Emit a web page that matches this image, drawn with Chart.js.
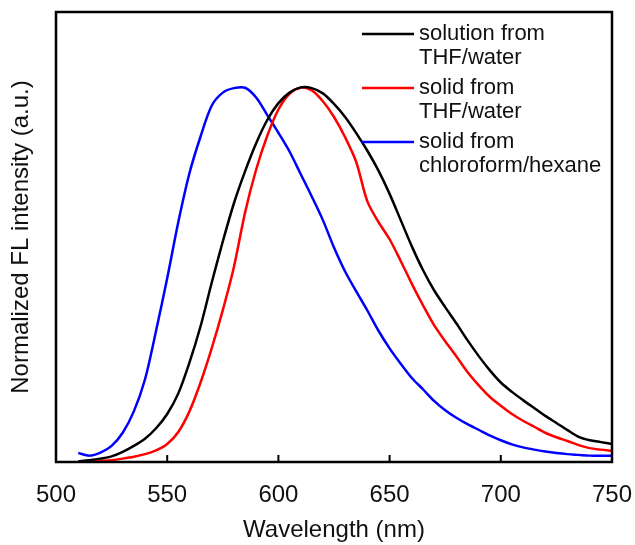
<!DOCTYPE html>
<html>
<head>
<meta charset="utf-8">
<script src="https://cdn.jsdelivr.net/npm/chart.js@4/dist/chart.umd.min.js"></script>
<style>
  html, body { margin: 0; padding: 0; background: #fff; }
  #wrap { width: 635px; height: 545px; }
</style>
</head>
<body>
<div id="wrap"><canvas id="chart" width="635" height="545"></canvas></div>
<script>
// wavelength grid (nm)
const wavelengths = [510, 515, 520, 525, 530, 535, 540, 545, 550, 555, 560, 565, 570, 575, 580, 585, 590, 595,
  600, 605, 610, 615, 620, 625, 630, 635, 640, 645, 650, 655, 660, 665, 670, 675, 680, 685, 690, 695,
  700, 705, 710, 715, 720, 725, 730, 735, 740, 745, 750]

// solution from THF/water
const solutionTHF = [0.002, 0.005, 0.009, 0.015, 0.027, 0.043, 0.062, 0.090, 0.128, 0.183, 0.265, 0.362, 0.478, 0.588,
  0.690, 0.775, 0.850, 0.912, 0.957, 0.985, 0.999, 0.997, 0.983, 0.955, 0.920, 0.877, 0.830, 0.777, 0.715, 0.645,
  0.575, 0.512, 0.458, 0.413, 0.370, 0.325, 0.283, 0.245, 0.212, 0.187, 0.165, 0.144, 0.123, 0.104, 0.085, 0.067,
  0.058, 0.053, 0.048]

// solid from THF/water
const solidTHF = [0.000, 0.001, 0.003, 0.005, 0.009, 0.014, 0.021, 0.031, 0.048, 0.080, 0.135, 0.212, 0.303, 0.405,
  0.520, 0.665, 0.780, 0.870, 0.940, 0.982, 0.998, 0.991, 0.962, 0.920, 0.866, 0.800, 0.695, 0.640, 0.594, 0.536,
  0.475, 0.418, 0.365, 0.322, 0.282, 0.240, 0.205, 0.174, 0.150, 0.128, 0.110, 0.094, 0.078, 0.066, 0.056, 0.045,
  0.037, 0.033, 0.030]

// solid from chloroform/hexane
const solidCHCl3 = [0.024, 0.017, 0.025, 0.043, 0.078, 0.135, 0.220, 0.350, 0.490, 0.640, 0.770, 0.868, 0.950, 0.985,
  0.997, 0.998, 0.972, 0.925, 0.878, 0.828, 0.768, 0.708, 0.645, 0.572, 0.508, 0.455, 0.404, 0.350, 0.303, 0.262,
  0.224, 0.194, 0.163, 0.138, 0.118, 0.101, 0.086, 0.071, 0.058, 0.047, 0.039, 0.033, 0.028, 0.024, 0.021, 0.019,
  0.017, 0.017, 0.017]

const xTicks = [500, 550, 600, 650, 700, 750]
const legendText = [['solution from', 'THF/water'], ['solid from', 'THF/water'], ['solid from', 'chloroform/hexane']]
const colors = ['#000000', '#ff0000', '#0000ff']

const toPoints = (ys) => wavelengths.map((x, i) => ({ x: x, y: ys[i] }))

const FONT = 'Arial, "Liberation Sans", sans-serif'

// frame, inward ticks and the two-line legend
const decorations = {
  id: 'decorations',
  afterDatasetsDraw(chart) {
    const { ctx, chartArea: a, scales } = chart
    ctx.save()
    ctx.strokeStyle = '#000'
    ctx.lineWidth = 2.5
    ctx.strokeRect(a.left, a.top, a.right - a.left, a.bottom - a.top)
    ctx.lineWidth = 2
    xTicks.forEach((v) => {
      const px = scales.x.getPixelForValue(v)
      ctx.beginPath()
      ctx.moveTo(px, a.bottom)
      ctx.lineTo(px, a.bottom - 7)
      ctx.stroke()
    })
    ctx.font = '22px ' + FONT
    ctx.fillStyle = '#111'
    ctx.textBaseline = 'middle'
    legendText.forEach((lines, i) => {
      const y0 = 34 + i * 54
      ctx.strokeStyle = colors[i]
      ctx.lineWidth = 2.5
      ctx.beginPath()
      ctx.moveTo(362, y0)
      ctx.lineTo(414, y0)
      ctx.stroke()
      lines.forEach((t, j) => ctx.fillText(t, 419, y0 + j * 24))
    })
    ctx.restore()
  },
}

const config = {
  type: 'line',
  data: {
    datasets: [
      { label: legendText[0].join(' '), data: toPoints(solutionTHF), borderColor: colors[0] },
      { label: legendText[1].join(' '), data: toPoints(solidTHF), borderColor: colors[1] },
      { label: legendText[2].join(' '), data: toPoints(solidCHCl3), borderColor: colors[2] },
    ],
  },
  options: {
    responsive: false,
    animation: false,
    layout: { padding: { top: 12, right: 23, left: 0, bottom: 0 } },
    elements: {
      line: { borderWidth: 2.5, tension: 0.3, fill: false },
      point: { radius: 0 },
    },
    plugins: {
      legend: { display: false },
      tooltip: { enabled: false },
    },
    scales: {
      x: {
        type: 'linear',
        min: 500,
        max: 750,
        afterFit: (s) => {
          s.height = 83
          s.paddingLeft = 0
          s.paddingRight = 0
        },
        afterBuildTicks: (s) => { s.ticks = xTicks.map((v) => ({ value: v })) },
        grid: { display: false, drawTicks: false },
        border: { display: false },
        ticks: { padding: 19, color: '#111', font: { size: 24, family: FONT } },
        title: {
          display: true,
          text: 'Wavelength (nm)',
          color: '#111',
          font: { size: 24, family: FONT },
          padding: { top: 0, bottom: 0 },
        },
      },
      y: {
        min: 0,
        max: 1.2,
        afterFit: (s) => {
          s.width = 56
          s.paddingTop = 0
          s.paddingBottom = 0
        },
        grid: { display: false, drawTicks: false },
        border: { display: false },
        ticks: { display: false },
        title: {
          display: true,
          text: 'Normalized FL intensity (a.u.)',
          color: '#111',
          font: { size: 24, family: FONT },
          padding: { top: 7, bottom: 0 },
        },
      },
    },
  },
  plugins: [decorations],
}

new Chart(document.getElementById('chart'), config)
</script>
</body>
</html>
